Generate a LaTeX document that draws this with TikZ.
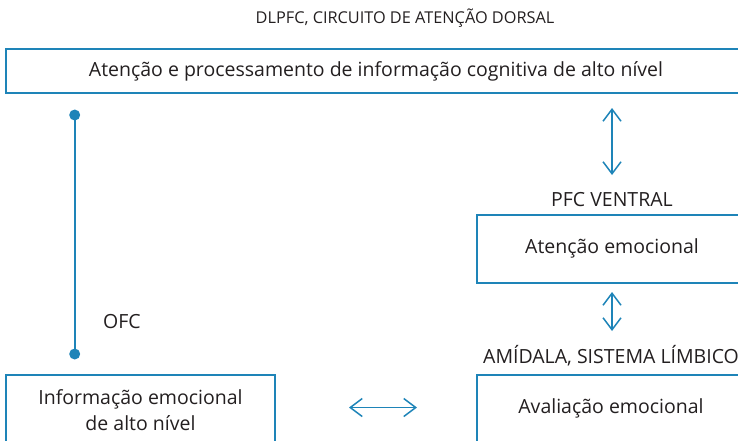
\documentclass[tikz,border=0pt]{standalone}
\usepackage{fontspec}
\setmainfont{Open Sans}
\usetikzlibrary{arrows.meta}
\definecolor{lineblue}{RGB}{30,132,184}
\definecolor{txt}{RGB}{35,31,32}
\tikzset{
  box/.style={draw=lineblue, line width=2pt, rectangle, inner sep=0pt},
  lbl/.style={text=txt, font=\fontsize{19.5}{23}\selectfont, inner sep=0pt},
  dbl/.style={draw=lineblue, line width=1.5pt, {Straight Barb[length=12pt,width=18pt]}-{Straight Barb[length=12pt,width=18pt]}},
  dotline/.style={draw=lineblue, line width=2pt},
  dotc/.style={circle, fill=lineblue, minimum size=11pt, inner sep=0pt}
}
\begin{document}
\begin{tikzpicture}[x=1pt,y=-1pt]
\useasboundingbox (0,0) rectangle (738,440);
\clip (0,0) rectangle (738,440);
% title
\node[lbl, font=\fontsize{16.3}{20}\selectfont] (title) at (405,18) {DLPFC, CIRCUITO DE ATENÇÃO DORSAL};
% top box
\node[box, minimum width=740pt, minimum height=44pt] (topbox) at (376,71) {};
\node[lbl] (toptext) at (376,71) {Atenção e processamento de informação cognitiva de alto nível};
% OFC line
\node[dotc] (d1) at (74.7,115) {};
\node[dotc] (d2) at (74.7,354) {};
\draw[dotline] (d1.center) -- (d2.center);
\node[lbl, anchor=west] (ofc) at (103,322) {OFC};
% ventral
\coordinate (a1t) at (612,108);
\coordinate (a1b) at (612,175);
\draw[dbl] (a1t) -- (a1b);
\node[lbl] (pfcv) at (612,200) {PFC VENTRAL};
\node[box, minimum width=270pt, minimum height=68pt] (vbox) at (612,249) {};
\node[lbl] (vtext) at (612,248) {Atenção emocional};
\coordinate (a2t) at (612,292);
\coordinate (a2b) at (612,331);
\draw[dbl] (a2t) -- (a2b);
\node[lbl] (amid) at (611,356) {AMÍDALA, SISTEMA LÍMBICO};
% bottom left
\node[box, minimum width=269pt, minimum height=90pt] (lbox) at (140.5,420) {};
\node[lbl, align=center, font=\fontsize{19.5}{26}\selectfont] (ltext) at (140.5,410) {Informação emocional\\de alto nível};
% bottom right
\node[box, minimum width=270pt, minimum height=90pt] (rbox) at (612,420) {};
\node[lbl] (rtext) at (611,408) {Avaliação emocional};
% horizontal arrow
\coordinate (h1) at (349,407.5);
\coordinate (h2) at (417,407.5);
\draw[dbl] (h1) -- (h2);
\end{tikzpicture}
\end{document}
